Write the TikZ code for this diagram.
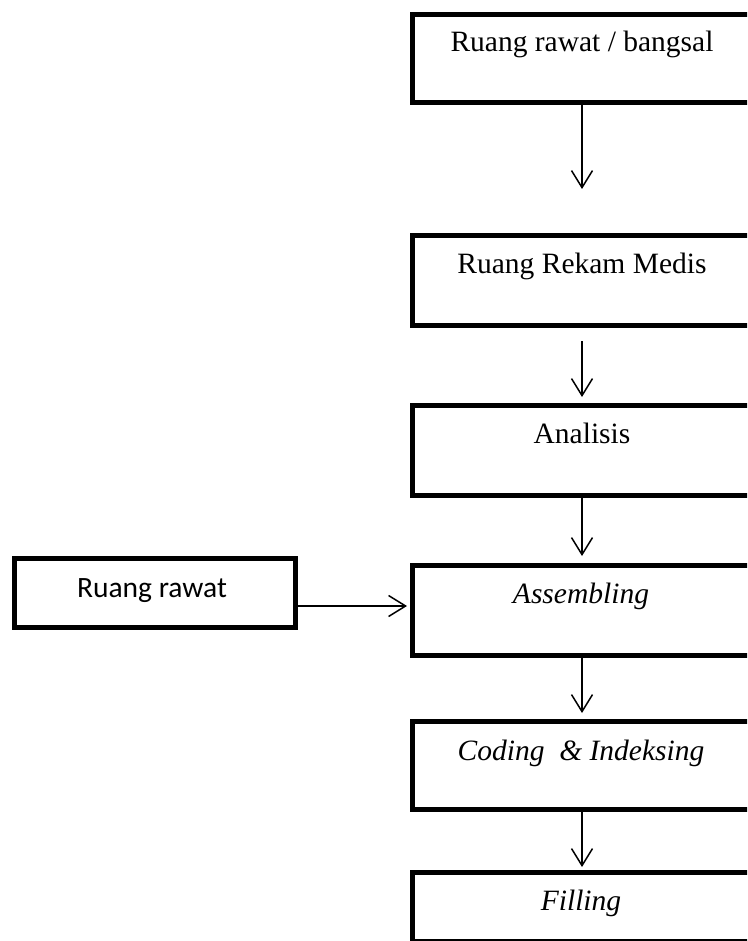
\documentclass[tikz,border=0pt]{standalone}
\usepackage{fontspec}
\setmainfont{Liberation Serif}
\newfontfamily\calibri{Carlito}
\usetikzlibrary{arrows.meta}
\tikzset{
  box/.style={draw=black, line width=5pt, rectangle, minimum width=346pt, inner sep=0pt, anchor=north west},
  sidebox/.style={draw=black, line width=4.5pt, rectangle, minimum width=281pt, minimum height=69pt, inner sep=0pt, anchor=north west},
  lbl/.style={anchor=base, inner sep=0pt, font=\fontsize{29.5}{34}\selectfont},
  arr/.style={line width=1.5pt, -{Straight Barb[length=17pt,width=21pt,line width=1.5pt]}},
}
\begin{document}
\begin{tikzpicture}[x=1pt,y=-1pt]
\clip (0,0) rectangle (747,941);
\fill[white] (0,0) rectangle (747,941);
% main column boxes
\node[box, minimum height=88pt] (b1) at (410,12) {};
\node[box, minimum height=90pt] (b2) at (410,233) {};
\node[box, minimum height=90pt] (b3) at (410,403) {};
\node[box, minimum height=90pt] (b4) at (410,563) {};
\node[box, minimum height=88pt] (b5) at (410,719) {};
\node[box, minimum height=69pt] (b6) at (410,870) {};
% side box
\node[sidebox] (s) at (12,556) {};
% labels
\node[lbl] (t1) at (582,52) {Ruang rawat / bangsal};
\node[lbl] (t2) at (582,273) {Ruang Rekam Medis};
\node[lbl] (t3) at (582,443) {Analisis};
\node[lbl] (t4) at (581,603) {\itshape Assembling};
\node[lbl] (t5) at (581,760) {\itshape Coding\ \ \& Indeksing};
\node[lbl] (t6) at (581,910) {\itshape Filling};
\node[lbl, font=\calibri\fontsize{29.5}{34}\selectfont] (ts) at (152,597) {Ruang rawat};
% connector end points
\coordinate (e1) at (582,189);
\coordinate (s2) at (582,341);
\coordinate (e2) at (582,397);
\coordinate (e3) at (582,556);
\coordinate (e4) at (582,713);
\coordinate (e5) at (582,867);
\coordinate (es) at (407,606);
\coordinate (ss) at (293,606);
% connectors
\draw[arr] (b1.south -| e1) -- (e1);
\draw[arr] (s2) -- (e2);
\draw[arr] (b3.south -| e3) -- (e3);
\draw[arr] (b4.south -| e4) -- (e4);
\draw[arr] (b5.south -| e5) -- (e5);
\draw[arr] (s.east |- ss) -- (es);
\end{tikzpicture}
\end{document}
